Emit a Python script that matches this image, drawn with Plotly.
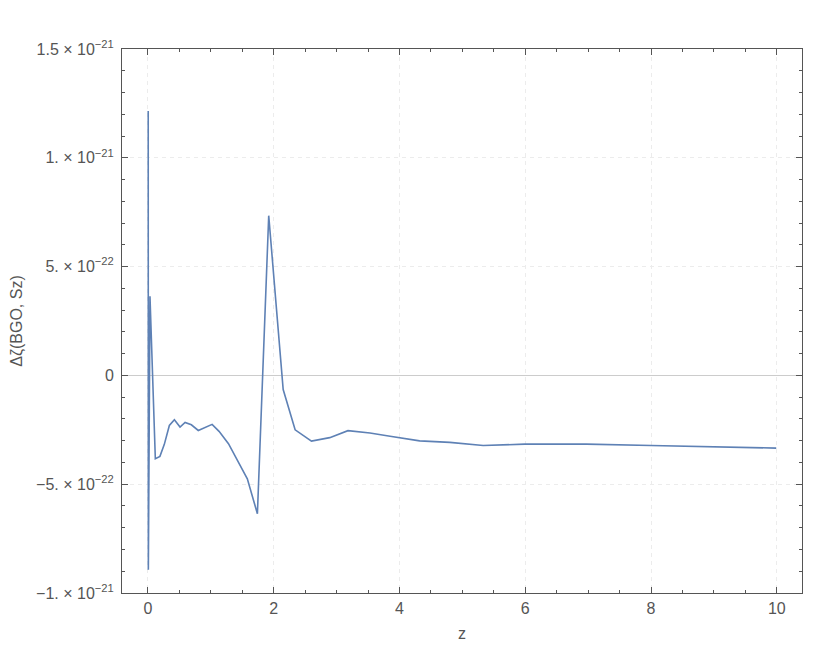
import plotly.graph_objects as go

z = [0.004, 0.006, 0.016, 0.032, 0.045, 0.117, 0.19, 0.26, 0.34, 0.42, 0.51, 0.59, 0.69,
     0.80, 1.02, 1.13, 1.28, 1.58, 1.74, 1.92, 2.15, 2.34, 2.60, 2.89, 3.18, 3.53,
     3.85, 4.32, 4.80, 5.33, 5.99, 6.97, 8.0, 8.99, 9.99]
dzeta = [12.15e-22, -8.93e-22, -4.14e-22, 3.64e-22, 2.42e-22, -3.83e-22, -3.72e-22, -3.17e-22,
         -2.30e-22, -2.04e-22, -2.37e-22, -2.16e-22, -2.27e-22, -2.53e-22, -2.25e-22,
         -2.57e-22, -3.14e-22, -4.75e-22, -6.36e-22, 7.34e-22, -0.65e-22, -2.50e-22,
         -3.02e-22, -2.86e-22, -2.54e-22, -2.65e-22, -2.80e-22, -3.01e-22, -3.08e-22,
         -3.22e-22, -3.16e-22, -3.16e-22, -3.22e-22, -3.29e-22, -3.34e-22]

x_ticks = [0, 2, 4, 6, 8, 10]
y_ticks = [-1e-21, -5e-22, 0, 5e-22, 1e-21, 1.5e-21]
y_ticktext = ["\u22121. \u00d7 10<sup>\u221221</sup>", "\u22125. \u00d7 10<sup>\u221222</sup>", "0",
              "5. \u00d7 10<sup>\u221222</sup>", "1. \u00d7 10<sup>\u221221</sup>",
              "1.5 \u00d7 10<sup>\u221221</sup>"]

fig = go.Figure()
fig.add_trace(go.Scatter(x=z, y=dzeta, mode="lines",
                         line=dict(color="#5E81B5", width=1.6), showlegend=False))

font = dict(family="Liberation Sans, Arial, sans-serif", size=15, color="#555555")
fig.update_layout(
    width=830, height=645,
    margin=dict(l=114, r=36, t=41, b=60),
    plot_bgcolor="white", paper_bgcolor="white",
    font=font,
)
fig.update_xaxes(
    automargin=False,
    range=[-0.413, 10.40], tickvals=x_ticks, ticktext=[str(t) for t in x_ticks],
    showline=True, linecolor="#555555", linewidth=1, mirror="allticks",
    ticks="inside", ticklen=6, tickcolor="#555555",
    minor=dict(ticks="inside", dtick=0.5, tick0=0, ticklen=3, tickcolor="#555555", showgrid=False),
    showgrid=True, gridcolor="#ececec", griddash="4px,4px", gridwidth=1,
    zeroline=False, tickfont=dict(size=16), ticklabelstandoff=1,
    title=dict(text="z", font=dict(size=16, color="#555555"), standoff=11),
)
fig.update_yaxes(
    automargin=False,
    range=[-1e-21, 1.5e-21], tickvals=y_ticks, ticktext=y_ticktext,
    showline=True, linecolor="#555555", linewidth=1, mirror="allticks",
    ticks="inside", ticklen=6, tickcolor="#555555",
    minor=dict(ticks="inside", dtick=1e-22, tick0=0, ticklen=3, tickcolor="#555555", showgrid=False),
    showgrid=True, gridcolor="#ececec", griddash="4px,4px", gridwidth=1,
    zeroline=True, zerolinecolor="#cccccc", zerolinewidth=1, tickfont=dict(size=16),
    ticklabelstandoff=4,
    title=dict(text="\u0394\u03b6(BGO, Sz)", font=dict(size=16, color="#555555"), standoff=14),
)

fig.write_html("out.html")
